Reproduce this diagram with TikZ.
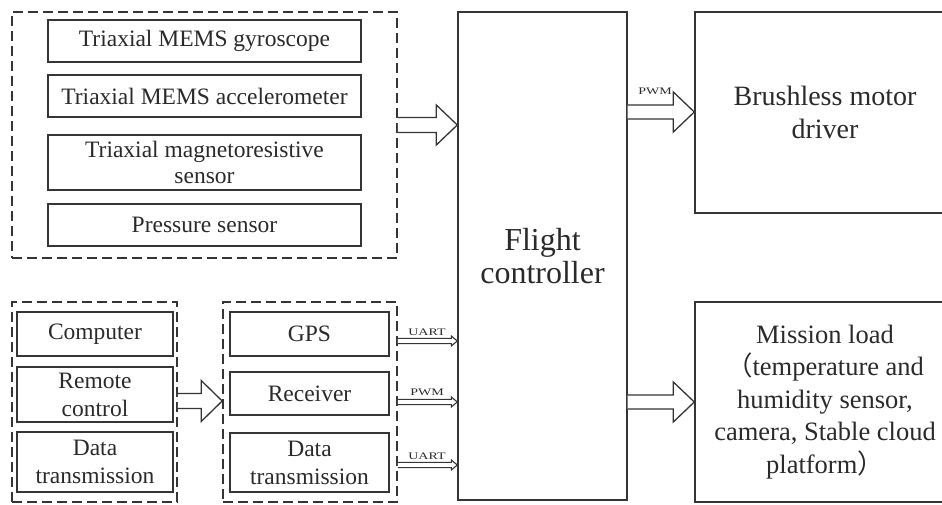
\documentclass[tikz,border=0pt]{standalone}
\usepackage{fontspec}
\setmainfont{Liberation Serif}
\newfontfamily\cjk{Noto Sans CJK SC}
\usetikzlibrary{calc}
\definecolor{ln}{HTML}{353535}
\definecolor{tx}{HTML}{2A2A2A}
\tikzset{
  box/.style={draw=ln, line width=1.4pt, rectangle, inner sep=0pt, align=center, text=tx},
  grp/.style={draw=ln, line width=1.6pt, dash pattern=on 10pt off 5pt, rectangle, inner sep=0pt},
  arrline/.style={draw=ln, fill=white, line width=1.3pt, line join=miter},
  thinarr/.style={draw=ln, fill=white, line width=1.1pt, line join=miter},
  sig/.style={text=tx, font=\fontsize{10}{10}\selectfont, xscale=1.4, inner sep=0pt},
  small/.style={font=\fontsize{23.5}{25.5}\selectfont},
  smallb/.style={font=\fontsize{23.5}{28}\selectfont},
}
\newcommand{\blockarr}[6]{%
  \draw[#6] let \p1=(#1), \p2=(#2) in
    (\x1,\y1+#3) -- (\x2-#5,\y1+#3) -- (\x2-#5,\y1+#4) -- (\x2,\y1)
    -- (\x2-#5,\y1-#4) -- (\x2-#5,\y1-#3) -- (\x1,\y1-#3);}
\begin{document}
\begin{tikzpicture}[x=1pt,y=-1pt]
\useasboundingbox (0,0) rectangle (942,505);
% top group
\node[grp, minimum width=385pt, minimum height=246pt] (topgrp) at (204.5,135) {};
\node[box, small, minimum width=313pt, minimum height=42pt] (gyro) at (204.5,41) {Triaxial MEMS gyroscope};
\node[box, small, minimum width=313pt, minimum height=42pt] (acc) at (204.5,96) {Triaxial MEMS accelerometer};
\node[box, small, minimum width=313pt, minimum height=55pt] (mag) at (204.5,162.5) {Triaxial magnetoresistive\\sensor};
\node[box, small, minimum width=313pt, minimum height=42pt] (pres) at (204.5,225) {Pressure sensor};
% flight controller
\node[box, font=\fontsize{32}{33}\selectfont, minimum width=169pt, minimum height=488pt] (fc) at (542.5,256) {Flight\\controller};
% right boxes (right edge beyond page)
\node[box, font=\fontsize{28}{33}\selectfont, minimum width=260pt, minimum height=201pt] (bm) at (825,112.5) {Brushless motor\\driver};
\node[box, font=\fontsize{26.5}{32.5}\selectfont, minimum width=260pt, minimum height=200pt] (ml) at (825,402) {Mission load\\{\cjk （}temperature and\\humidity sensor,\\camera, Stable cloud\\platform{\cjk ）}};
% bottom-left group
\node[grp, minimum width=165pt, minimum height=200pt] (lgrp) at (94.5,402) {};
\node[box, smallb, minimum width=156pt, minimum height=44pt] (comp) at (95,334) {Computer};
\node[box, smallb, minimum width=156pt, minimum height=55pt] (rc) at (95,394.5) {Remote\\control};
\node[box, smallb, minimum width=156pt, minimum height=60pt] (dt1) at (95,462) {Data\\transmission};
% middle group
\node[grp, minimum width=174pt, minimum height=200pt] (mgrp) at (310,402) {};
\node[box, smallb, minimum width=159pt, minimum height=44pt] (gps) at (309.5,334) {GPS};
\node[box, smallb, minimum width=159pt, minimum height=43pt] (recv) at (309.5,393.5) {Receiver};
\node[box, smallb, minimum width=159pt, minimum height=59pt] (dt2) at (309.5,462.5) {Data\\transmission};
% arrow end points
\coordinate (a1s) at (topgrp.east |- 0,125);
\coordinate (a1e) at (fc.west |- 0,125);
\coordinate (a2s) at (lgrp.east |- 0,401);
\coordinate (a2e) at (mgrp.west |- 0,401);
\coordinate (a3s) at (fc.east |- 0,112);
\coordinate (a3e) at (bm.west |- 0,112);
\coordinate (a4s) at (fc.east |- 0,402);
\coordinate (a4e) at (ml.west |- 0,402);
\coordinate (s1s) at (mgrp.east |- 0,341);
\coordinate (s1e) at (fc.west |- 0,341);
\coordinate (s2s) at (mgrp.east |- 0,402);
\coordinate (s2e) at (fc.west |- 0,402);
\coordinate (s3s) at (mgrp.east |- 0,465);
\coordinate (s3e) at (fc.west |- 0,465);
% big arrows
\blockarr{a1s}{a1e}{7.5pt}{20pt}{21pt}{arrline}
\blockarr{a2s}{a2e}{7.5pt}{20.5pt}{21pt}{arrline}
\blockarr{a3s}{a3e}{7pt}{20pt}{21pt}{arrline}
\blockarr{a4s}{a4e}{7pt}{20pt}{21pt}{arrline}
% small arrows
\blockarr{s1s}{s1e}{2.6pt}{5pt}{6pt}{thinarr}
\blockarr{s2s}{s2e}{2.6pt}{5pt}{6pt}{thinarr}
\blockarr{s3s}{s3e}{2.6pt}{5pt}{6pt}{thinarr}
% labels
\node[sig] (l1) at (427,332) {UART};
\node[sig] (l2) at (427,392) {PWM};
\node[sig] (l3) at (427,456) {UART};
\node[sig] (l4) at (655,91) {PWM};
\end{tikzpicture}
\end{document}
